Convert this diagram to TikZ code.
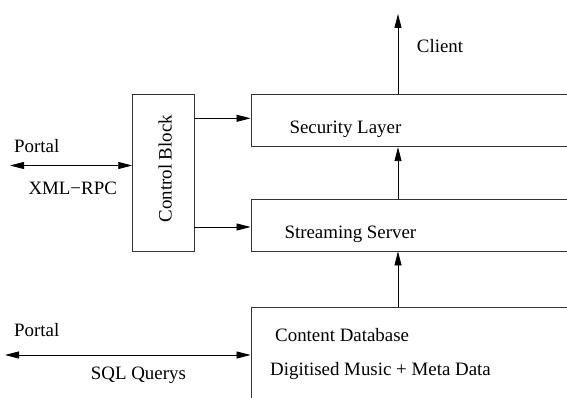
\documentclass[tikz,border=0pt]{standalone}
\usepackage{fontspec}
\setmainfont{Liberation Serif}
\usetikzlibrary{arrows.meta}
\tikzset{
  blk/.style={draw=black!80, line width=0.9pt, inner sep=0pt},
  arr/.style={line width=0.8pt, -{Triangle[length=14pt,width=7pt]}},
  darr/.style={line width=0.8pt, {Triangle[length=14pt,width=7pt]}-{Triangle[length=14pt,width=7pt]}},
  lbl/.style={font=\fontsize{18.9}{22}\selectfont, inner sep=0pt, anchor=base west}
}
\begin{document}
\begin{tikzpicture}[x=1pt,y=-1pt]
      \useasboundingbox (0,0) rectangle (567,398);
      \clip (0,0) rectangle (567,398);
      \node[blk, minimum width=61.3pt, minimum height=156.6pt] (ctrl) at (163.35,173) {};
      \node[blk, minimum width=369pt, minimum height=52pt] (secl) at (435.5,120.7) {};
      \node[blk, minimum width=369pt, minimum height=52pt] (strm) at (435.5,225) {};
      \node[blk, minimum width=369pt, minimum height=132.3pt] (cdb) at (435.5,373.85) {};
      \node[lbl, rotate=90] (ctrltxt) at (171.7,222.7) {Control Block};
      \node[lbl] (sectxt) at (289.3,134) {Security Layer};
      \node[lbl] (strmtxt) at (284.3,238.3) {Streaming Server};
      \node[lbl] (cdbtxt) at (275,341.7) {Content Database};
      \node[lbl] (musictxt) at (270,375) {Digitised Music + Meta Data};
      \node[lbl] (client) at (416.7,52.3) {Client};
      \node[lbl] (portalA) at (14,152.7) {Portal};
      \node[lbl] (xmlrpc) at (28.3,194) {XML−RPC};
      \node[lbl] (portalB) at (14,336.7) {Portal};
      \node[lbl] (sql) at (90.7,379) {SQL Querys};
      \coordinate (spine) at (398,0);
      \coordinate (top) at (398,14);
      \coordinate (portA) at (10,165.5);
      \coordinate (portB) at (5,355);
      \draw[arr] (secl.north -| spine) -- (top);
      \draw[arr] (strm.north -| spine) -- (secl.south -| spine);
      \draw[arr] (cdb.north -| spine) -- (strm.south -| spine);
      \draw[arr] ([yshift=2.4pt]secl.west -| ctrl.east) -- ([yshift=2.4pt]secl.west);
      \draw[arr] ([yshift=-2pt]strm.west -| ctrl.east) -- ([yshift=-2pt]strm.west);
      \draw[darr] (portA) -- (portA -| ctrl.west);
      \draw[darr] (portB) -- (portB -| cdb.west);
    \end{tikzpicture}
\end{document}
